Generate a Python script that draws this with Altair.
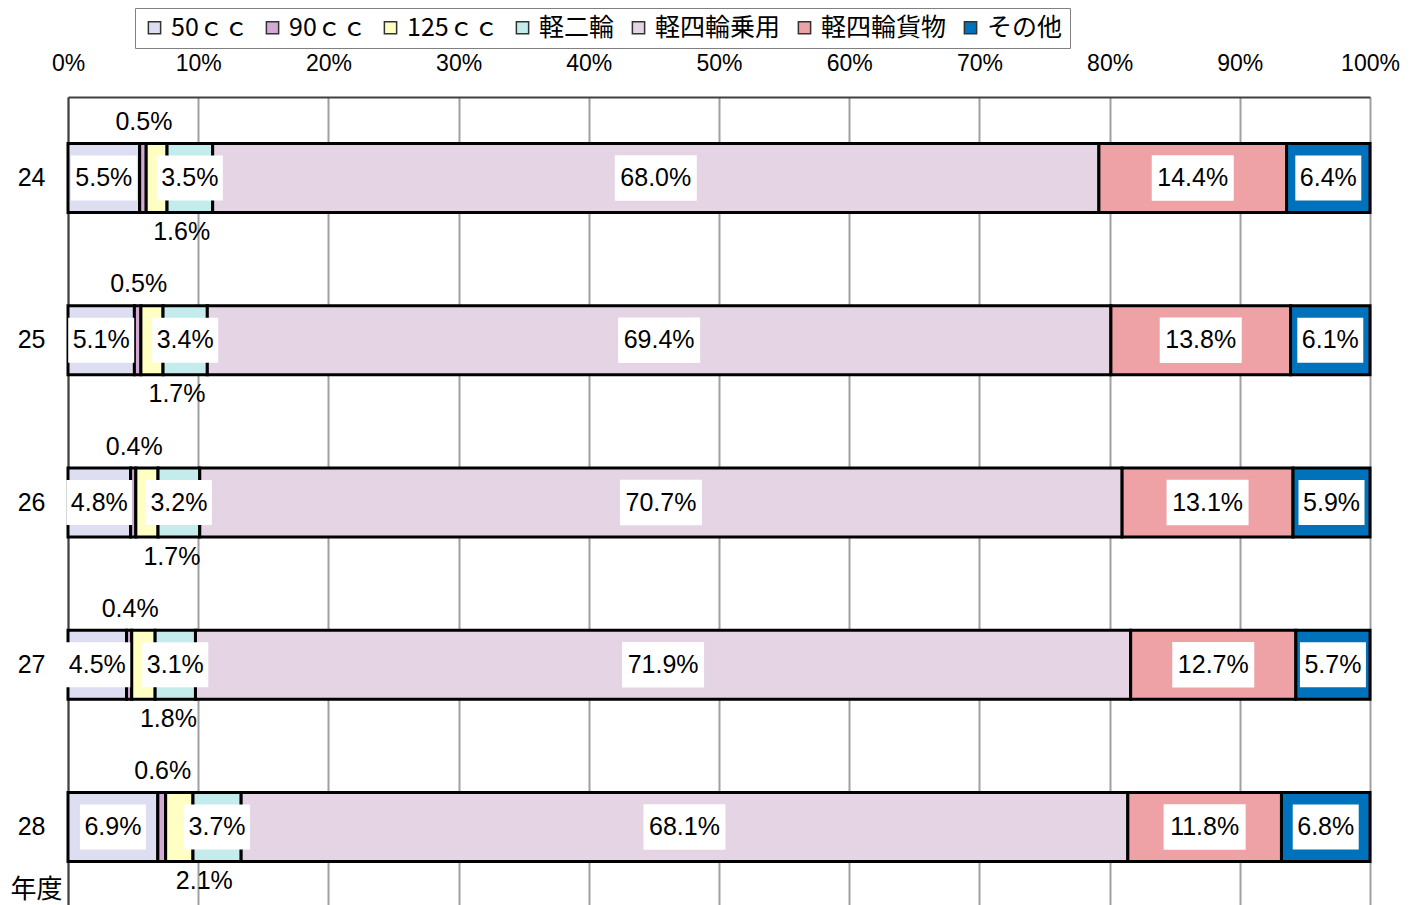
import altair as alt
import pandas as pd

years = ["24", "25", "26", "27", "28"]
categories = ["50ｃｃ", "90ｃｃ", "125ｃｃ", "軽二輪", "軽四輪乗用", "軽四輪貨物", "その他"]
v50 = [5.5, 5.1, 4.8, 4.5, 6.9]
v90 = [0.5, 0.5, 0.4, 0.4, 0.6]
v125 = [1.6, 1.7, 1.7, 1.8, 2.1]
v_kei2 = [3.5, 3.4, 3.2, 3.1, 3.7]
v_joyo = [68.0, 69.4, 70.7, 71.9, 68.1]
v_kamotsu = [14.4, 13.8, 13.1, 12.7, 11.8]
v_other = [6.4, 6.1, 5.9, 5.7, 6.8]
colors = ["#dedef2", "#d4aad4", "#ffffc4", "#c4ecec", "#e4d4e4", "#eea2a6", "#0072bc"]
x_ticks = [0, 0.1, 0.2, 0.3, 0.4, 0.5, 0.6, 0.7, 0.8, 0.9, 1.0]

series = [v50, v90, v125, v_kei2, v_joyo, v_kamotsu, v_other]
rows = []
for i, yr in enumerate(years):
    total = sum(s[i] for s in series)
    cum = 0.0
    for j, cat in enumerate(categories):
        v = series[j][i]
        rows.append(dict(year=yr, cat=cat, order=j, value=v,
                         start=cum / total, end=(cum + v) / total,
                         mid=(cum + v / 2) / total, label=f"{v:.1f}%"))
        cum += v
df = pd.DataFrame(rows)

SANS = "Liberation Sans, Arial, sans-serif"
CJK = "Noto Sans CJK JP, sans-serif"

x_scale = alt.Scale(domain=[0, 1])
y_scale = alt.Scale(domain=years, range=[0, 811], paddingInner=0.5, paddingOuter=0.25)

base = alt.Chart(df)

bars = base.mark_bar(stroke="black", strokeWidth=3, size=69).encode(
    x=alt.X("start:Q", scale=x_scale,
            axis=alt.Axis(orient="top", format="%", values=x_ticks, grid=True,
                          gridColor="#a0a0a0", gridWidth=2, ticks=False, tickSize=0,
                          labelFont=SANS, labelFontSize=23, labelColor="black",
                          labelPadding=27, labelBaseline="alphabetic", labelFlush=False,
                          domainColor="#404040", domainWidth=2, title=None)),
    x2="end:Q",
    y=alt.Y("year:N", scale=y_scale, sort=years,
            axis=alt.Axis(ticks=False, tickSize=0, grid=False, labelFont=SANS,
                          labelFontSize=25, labelColor="black", labelPadding=23,
                          domainColor="#404040", domainWidth=2,
                          title="年度", titleAngle=0, titleX=-32, titleY=792,
                          titleFont=CJK, titleFontSize=26, titleFontWeight="normal",
                          titleAlign="center", titleBaseline="middle", titleColor="black")),
    color=alt.Color("cat:N", scale=alt.Scale(domain=categories, range=colors),
                    legend=alt.Legend(orient="none", legendX=67, legendY=-89,
                                      direction="horizontal", columns=7, title=None,
                                      labelFont=CJK, labelFontSize=25, labelColor="black",
                                      symbolType="square", symbolSize=150,
                                      symbolStrokeColor="#333333", symbolStrokeWidth=1.5,
                                      symbolOpacity=1, labelOffset=4, columnPadding=11,
                                      strokeColor="#808080", fillColor="white",
                                      padding=7)),
    order=alt.Order("order:Q"),
)

inside = base.transform_filter(
    alt.FieldOneOfPredicate(field="cat", oneOf=["50ｃｃ", "軽二輪", "軽四輪乗用", "軽四輪貨物", "その他"])
).transform_calculate(n="length(datum.label)")

box4 = inside.transform_filter("datum.n == 4").mark_point(
    shape="M-1,-0.682L1,-0.682L1,0.682L-1,0.682Z", filled=True, fill="white",
    opacity=1, strokeWidth=0, size=66 * 66
).encode(x=alt.X("mid:Q", scale=x_scale), y=alt.Y("year:N", scale=y_scale, sort=years))

box5 = inside.transform_filter("datum.n == 5").mark_point(
    shape="M-1,-0.555L1,-0.555L1,0.555L-1,0.555Z", filled=True, fill="white",
    opacity=1, strokeWidth=0, size=82 * 82
).encode(x=alt.X("mid:Q", scale=x_scale), y=alt.Y("year:N", scale=y_scale, sort=years))

inside_text = inside.mark_text(font=SANS, fontSize=25, color="black").encode(
    x=alt.X("mid:Q", scale=x_scale), y=alt.Y("year:N", scale=y_scale, sort=years),
    text="label:N")

above_text = base.transform_filter(alt.datum.cat == "90ｃｃ").mark_text(
    font=SANS, fontSize=25, color="black", dy=-56, dx=1).encode(
    x=alt.X("mid:Q", scale=x_scale), y=alt.Y("year:N", scale=y_scale, sort=years),
    text="label:N")

below_text = base.transform_filter(alt.datum.cat == "125ｃｃ").mark_text(
    font=SANS, fontSize=25, color="black", dy=54, dx=25).encode(
    x=alt.X("mid:Q", scale=x_scale), y=alt.Y("year:N", scale=y_scale, sort=years),
    text="label:N")

chart = alt.layer(bars, box4, box5, inside_text, above_text, below_text).properties(
    width=1302, height=808,
    padding={"left": 60, "top": 89, "right": 30, "bottom": 0},
    autosize=alt.AutoSizeParams(type="none"),
).configure_view(stroke=None)

chart.save("out.html", embed_options={"renderer": "svg", "actions": False})
